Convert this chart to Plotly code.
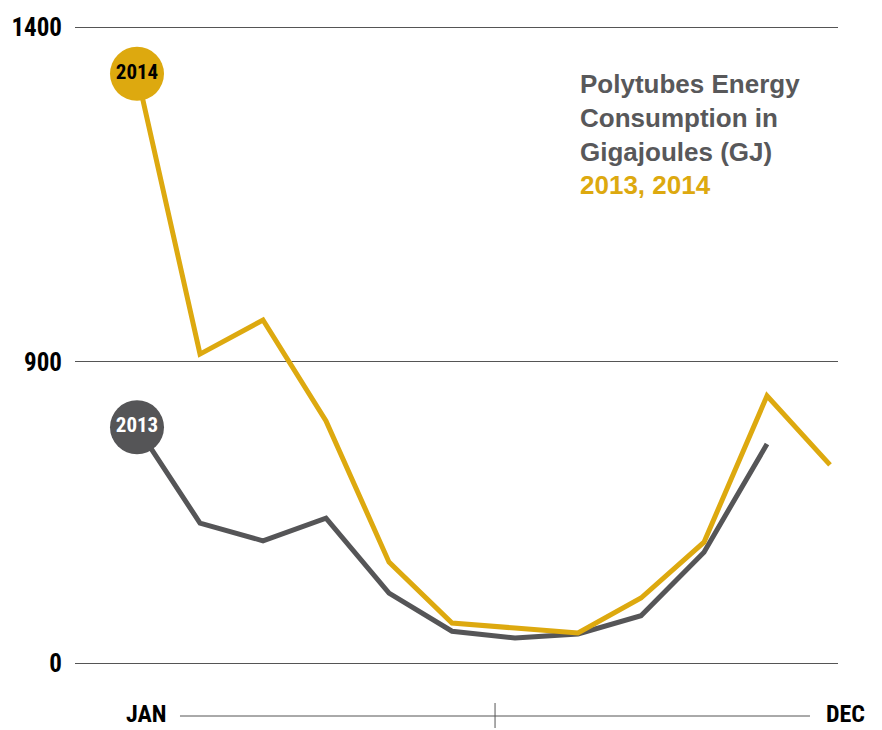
import plotly.graph_objects as go

# Monthly energy consumption (GJ)
months = ["JAN", "FEB", "MAR", "APR", "MAY", "JUN", "JUL", "AUG", "SEP", "OCT", "NOV", "DEC"]
energy_2013 = [519, 308, 269, 319, 154, 70, 55, 64, 104, 244, 482, None]
energy_2014 = [1297, 680, 755, 533, 222, 88, 77, 66, 143, 266, 588, 436]

# Gridline positions on the value axis and the labels printed beside them
grid_vals = [0, 662.6, 1400]
grid_text = ["0", "900", "1400"]

GOLD = "#DDA90F"
GREY = "#555557"
NARROW = "Liberation Sans Narrow, Arial Narrow, Roboto Condensed, sans-serif"
SANS = "Liberation Sans, Helvetica, Arial, sans-serif"

x = list(range(1, len(months) + 1))

fig = go.Figure()

fig.add_trace(go.Scatter(
    x=x, y=energy_2013, mode="lines",
    line=dict(color=GREY, width=5), hoverinfo="skip", showlegend=False,
))
fig.add_trace(go.Scatter(
    x=x, y=energy_2014, mode="lines",
    line=dict(color=GOLD, width=5), hoverinfo="skip", showlegend=False,
))

# Year badges at the start of each line
fig.add_trace(go.Scatter(
    x=[x[0]], y=[energy_2013[0]], mode="markers+text", text=["2013"],
    textposition="middle center",
    textfont=dict(family=NARROW, size=21, color="white", weight="bold"),
    marker=dict(size=54, color=GREY), showlegend=False, hoverinfo="skip",
))
fig.add_trace(go.Scatter(
    x=[x[0]], y=[energy_2014[0]], mode="markers+text", text=["2014"],
    textposition="middle center",
    textfont=dict(family=NARROW, size=21, color="black", weight="bold"),
    marker=dict(size=54, color=GOLD), showlegend=False, hoverinfo="skip",
))

fig.update_xaxes(
    range=[1 - 62 / 63, 12 + 8 / 63],
    showgrid=False, zeroline=False, showline=False, showticklabels=False,
)
fig.update_yaxes(
    range=[-8.8, 1408.8],
    tickvals=grid_vals, ticktext=grid_text,
    showgrid=True, gridcolor="#555555", gridwidth=1,
    zeroline=False, showline=False, ticks="",
    ticklabelstandoff=12,
    tickfont=dict(family=NARROW, size=25, color="black", weight="bold"),
)

# Month timeline under the chart (paper coords relative to the plot area)
PLOT_TOP, PLOT_H = 23, 644


def py(px):
    return 1 - (px - PLOT_TOP) / PLOT_H


fig.add_shape(type="line", xref="paper", yref="paper",
              x0=0.1376, x1=0.9633, y0=py(716), y1=py(716),
              line=dict(color="#555555", width=1))
fig.add_shape(type="line", xref="paper", yref="paper",
              x0=0.5505, x1=0.5505, y0=py(703), y1=py(728),
              line=dict(color="#555555", width=1))

for label, xp in ((months[0], 0.0931), (months[-1], 1.0092)):
    fig.add_annotation(xref="paper", yref="paper", x=xp, y=py(714),
                       text=label, showarrow=False, xanchor="center", yanchor="middle",
                       font=dict(family=NARROW, size=24, color="black", weight="bold"))

# Title block
fig.add_annotation(
    xref="paper", yref="paper", x=0.6590, y=py(67),
    xanchor="left", yanchor="top", align="left", showarrow=False,
    text=("Polytubes Energy<br>Consumption in<br>Gigajoules (GJ)<br>"
          f"<span style='color:{GOLD}'>2013, 2014</span>"),
    font=dict(family=SANS, size=26, color="#58585A", weight="bold"),
)

fig.update_layout(
    width=882, height=730,
    margin=dict(l=75, r=44, t=PLOT_TOP, b=730 - PLOT_TOP - PLOT_H),
    paper_bgcolor="white", plot_bgcolor="white",
)

fig.write_html("out.html")
